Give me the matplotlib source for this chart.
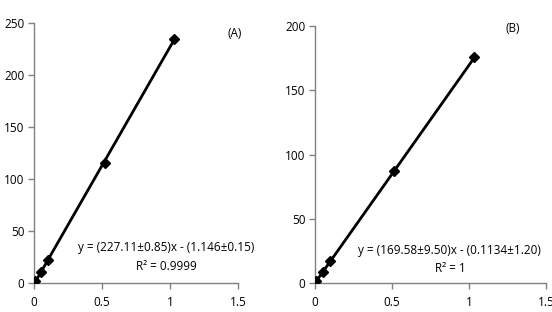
import numpy as np
import matplotlib
matplotlib.use("Agg")
import matplotlib.pyplot as plt

plt.rcParams['font.family'] = ['Open Sans', 'DejaVu Sans']

# panel A data
x_a = [0.007, 0.051, 0.103, 0.52, 1.03]
y_a = [1.6, 10.6, 22.2, 115, 235]
# panel B data
x_b = [0.006, 0.052, 0.10, 0.515, 1.035]
y_b = [1.3, 8.6, 17.1, 87, 175.6]

eq_a = "y = (227.11±0.85)x - (1.146±0.15)"
r2_a = "R² = 0.9999"
eq_b = "y = (169.58±9.50)x - (0.1134±1.20)"
r2_b = "R² = 1"

W, H = 552, 312
fig = plt.figure(figsize=(W / 100, H / 100), dpi=100)


def px_axes(left, top, right, bottom):
    return fig.add_axes([left / W, 1 - bottom / H, (right - left) / W, (bottom - top) / H])


def draw_panel(ax, x, y, ymax, ystep, label, eq, r2, label_pos, eq_pos):
    x = np.array(x)
    y = np.array(y)
    slope, icpt = np.polyfit(x, y, 1)
    ax.plot(x, slope * x + icpt, color='black', linewidth=2, zorder=2)
    ax.plot(x, y, linestyle='none', marker='D', markersize=5, color='black', zorder=3)
    ax.set_xlim(0, 1.5)
    ax.set_ylim(0, ymax)
    ax.set_xticks([0, 0.5, 1, 1.5])
    ax.set_xticklabels(['0', '0.5', '1', '1.5'])
    ax.set_yticks(np.arange(0, ymax + 1, ystep))
    for s in ['top', 'right']:
        ax.spines[s].set_visible(False)
    for s in ['left', 'bottom']:
        ax.spines[s].set_color('#808080')
        ax.spines[s].set_linewidth(1)
    ax.tick_params(axis='both', colors='#808080', labelcolor='black', labelsize=8.5, length=4, width=1)
    ax.tick_params(axis='x', pad=5)
    ax.tick_params(axis='y', pad=3)
    ax.text(label_pos[0], label_pos[1], label, transform=ax.transAxes, fontsize=8.5, ha='center', va='center')
    ax.text(eq_pos[0], eq_pos[1], eq, transform=ax.transAxes, fontsize=8.5, ha='center', va='center')
    ax.text(eq_pos[0], eq_pos[1] - 0.073, r2, transform=ax.transAxes, fontsize=8.5, ha='center', va='center')


ax_a = px_axes(34, 23, 238, 283)
draw_panel(ax_a, x_a, y_a, 250, 50, "(A)", eq_a, r2_a, (0.985, 0.96), (0.647, 0.135))

ax_b = px_axes(315, 26, 546, 283)
draw_panel(ax_b, x_b, y_b, 200, 50, "(B)", eq_b, r2_b, (0.857, 0.99), (0.584, 0.128))

fig.savefig("out.png", dpi=100)
